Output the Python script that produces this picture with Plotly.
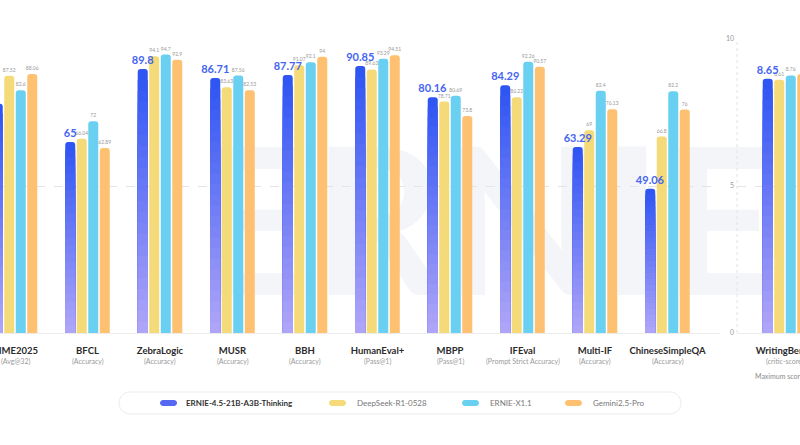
import plotly.graph_objects as go

# ---------------- data ----------------
categories = ["AIME2025", "BFCL", "ZebraLogic", "MUSR", "BBH", "HumanEval+",
              "MBPP", "IFEval", "Multi-IF", "ChineseSimpleQA"]
subtitles = ["(Avg@32)", "(Accuracy)", "(Accuracy)", "(Accuracy)", "(Accuracy)",
             "(Pass@1)", "(Pass@1)", "(Prompt Strict Accuracy)", "(Accuracy)", "(Accuracy)"]
ernie_thinking = [78.02, 65, 89.8, 86.71, 87.77, 90.85, 80.16, 84.29, 63.29, 49.06]
deepseek_r1 = [87.52, 66.04, 94.1, 83.63, 91.07, 89.63, 78.71, 80.22, 69, 66.8]
ernie_x11 = [82.6, 72, 94.7, 87.56, 92.1, 93.29, 80.69, 92.26, 82.4, 82.2]
gemini_pro = [88.06, 62.89, 92.9, 82.53, 94.0, 94.51, 73.8, 90.57, 76.13, 76.0]

wb_categories = ["WritingBench"]
wb_subtitles = ["(critic-score)"]
wb_ernie_thinking = [8.65]
wb_deepseek_r1 = [8.61]
wb_ernie_x11 = [8.76]
wb_gemini_pro = [8.8]

series_names = ["ERNIE-4.5-21B-A3B-Thinking", "DeepSeek-R1-0528", "ERNIE-X1.1", "Gemini2.5-Pro"]
left_ticks = [0, 50, 100]
right_ticks = [0, 5, 10]

# ---------------- style ----------------
W, H = 800, 445
MT, MB = 39, 112
PH = H - MT - MB
FONT = "Lato"
C_TOP = (0x2F, 0x55, 0xF3)
C_BOT = (0xB4, 0xA8, 0xF8)
C_DS = "#F4DA78"
C_X1 = "#6AD0F2"
C_GM = "#FEC172"
C_LABEL = "#4565F2"
NSEG = 24


def px_x(px):
    return px / W


def px_y(py):
    return 1 - (py - MT) / PH


def mix(t):
    r = [round(C_BOT[i] + (C_TOP[i] - C_BOT[i]) * t) for i in range(3)]
    return "rgb(%d,%d,%d)" % tuple(r)


fig = go.Figure()


def add_group(cats, e_vals, d_vals, x_vals, g_vals, xa, ya):
    # ERNIE bars with vertical gradient: overlaid bars of decreasing height
    for k in range(NSEG, 0, -1):
        frac = k / NSEG
        full = (k == NSEG)
        fig.add_trace(go.Bar(
            x=cats, y=[v * frac for v in e_vals], xaxis=xa, yaxis=ya,
            offsetgroup="a", marker=dict(color=mix(frac), line=dict(width=0),
                                         cornerradius=3 if full else 0),
            showlegend=False, hoverinfo="skip", name=series_names[0]))
    for vals, col, og, nm in [(d_vals, C_DS, "b", series_names[1]),
                              (x_vals, C_X1, "c", series_names[2]),
                              (g_vals, C_GM, "d", series_names[3])]:
        fig.add_trace(go.Bar(
            x=cats, y=vals, xaxis=xa, yaxis=ya, offsetgroup=og,
            marker=dict(color=col, line=dict(width=0), cornerradius=3),
            text=[f"{v:g}" for v in vals], textposition="outside",
            textfont=dict(size=5, color="#999999", family=FONT),
            constraintext="none", cliponaxis=False, showlegend=False, name=nm))
    # ERNIE value labels drawn last so they sit on top of neighbouring bars
    fig.add_trace(go.Bar(
        x=cats, y=e_vals, xaxis=xa, yaxis=ya, offsetgroup="a",
        marker=dict(color="rgba(0,0,0,0)", line=dict(width=0)),
        text=[f"{v:g}" for v in e_vals], texttemplate="<b>%{text}</b>",
        textposition="outside", textfont=dict(size=11, color=C_LABEL, family=FONT),
        constraintext="none", cliponaxis=False, showlegend=False, name=series_names[0]))


add_group(categories, ernie_thinking, deepseek_r1, ernie_x11, gemini_pro, "x", "y")
add_group(wb_categories, wb_ernie_thinking, wb_deepseek_r1, wb_ernie_x11, wb_gemini_pro, "x2", "y2")

SP = 72.5  # px per category
x_left_end = 720
x_right_start = 737
r0 = -15 / SP
rr0 = -(785 - x_right_start) / SP
TICKFONT = dict(size=9.5, color="#2a2a2a", family=FONT)

fig.update_layout(
    width=W, height=H, autosize=False, template="none",
    margin=dict(l=0, r=0, t=MT, b=MB, pad=0),
    paper_bgcolor="white", plot_bgcolor="white",
    barmode="group", bargap=0.365, bargroupgap=0.13,
    font=dict(family=FONT, color="#333333"),
    showlegend=False,
    xaxis=dict(domain=[0, px_x(x_left_end)], type="category", range=[r0, r0 + x_left_end / SP],
               tickvals=categories, ticktext=[f"<b>{c}</b>" for c in categories],
               tickfont=TICKFONT, ticks="", ticklabelstandoff=9, automargin=False,
               showline=True, linecolor="#ececec", linewidth=1, showgrid=False, zeroline=False),
    yaxis=dict(domain=[0, 1], range=[0, 100], tickvals=left_ticks, showticklabels=False,
               automargin=False, showline=False,
               showgrid=True, gridcolor="#e4e4e4", griddash="dash", gridwidth=1,
               zeroline=False, ticks=""),
    xaxis2=dict(domain=[px_x(x_right_start), 1], anchor="y2", type="category",
                range=[rr0, rr0 + (W - x_right_start) / SP],
                tickvals=wb_categories, ticktext=[f"<b>{c}</b>" for c in wb_categories],
                tickfont=TICKFONT, ticks="", ticklabelstandoff=9, automargin=False,
                showline=True, linecolor="#ececec", linewidth=1, showgrid=False, zeroline=False),
    yaxis2=dict(domain=[0, 1], anchor="x2", range=[0, 10], tickvals=right_ticks,
                tickfont=dict(size=7, color="#9a9a9a", family=FONT), ticks="",
                automargin=False, showline=False, ticklabelstandoff=2,
                showgrid=True, gridcolor="#e4e4e4", griddash="dash", gridwidth=1,
                zeroline=False),
)


def pill_path(w, h, r):
    k = 0.5523 * r
    x0, x1, y0, y1 = -w / 2, w / 2, -h / 2, h / 2
    return (f"M {x0 + r},{y0} L {x1 - r},{y0} "
            f"C {x1 - r + k},{y0} {x1},{y0 + r - k} {x1},{y0 + r} "
            f"L {x1},{y1 - r} "
            f"C {x1},{y1 - r + k} {x1 - r + k},{y1} {x1 - r},{y1} "
            f"L {x0 + r},{y1} "
            f"C {x0 + r - k},{y1} {x0},{y1 - r + k} {x0},{y1 - r} "
            f"L {x0},{y0 + r} "
            f"C {x0},{y0 + r - k} {x0 + r - k},{y0} {x0 + r},{y0} Z")


shapes = []
# watermark
shapes.append(dict(type="rect", xref="paper", yref="paper",
                   x0=px_x(245), x1=px_x(730), y0=px_y(300), y1=px_y(125),
                   line=dict(width=0), fillcolor="rgba(0,0,0,0)", layer="below",
                   label=dict(text="<b>ERNIE</b>", font=dict(size=205, color="#F4F5F9", family=FONT),
                              textposition="middle center")))
# separator
shapes.append(dict(type="line", xref="paper", yref="paper", x0=px_x(x_right_start), x1=px_x(x_right_start),
                   y0=0, y1=1, line=dict(color="#e2e2e2", width=1, dash="dot"), layer="below"))


def pill_shape(cx, cy, w, h, fill, line_col=None):
    return dict(type="path", xref="paper", yref="paper", xsizemode="pixel", ysizemode="pixel",
                xanchor=px_x(cx), yanchor=px_y(cy), path=pill_path(w, h, h / 2),
                fillcolor=fill, line=dict(color=line_col or fill, width=1 if line_col else 0))


shapes.append(pill_shape(400, 403, 562, 22, "white", "#ebebeb"))
legend_items = [
    (168.5, 184, series_names[0], "#5468F2", True),
    (337.5, 355, series_names[1], C_DS, False),
    (470.5, 488, series_names[2], C_X1, False),
    (573.5, 591, series_names[3], C_GM, False),
]
annotations = []
for sx, tx, name, col, bold in legend_items:
    shapes.append(pill_shape(sx, 403, 17, 6, col))
    annotations.append(dict(xref="paper", yref="paper", x=px_x(tx), y=px_y(403),
                            xanchor="left", yanchor="middle", showarrow=False,
                            text=f"<b>{name}</b>" if bold else name,
                            font=dict(size=8, color="#333333" if bold else "#777777", family=FONT)))

# category subtitles, anchored to each category on its axis
for c, s in zip(categories, subtitles):
    annotations.append(dict(xref="x", yref="paper", x=c, y=px_y(361), xanchor="center",
                            yanchor="middle", showarrow=False, text=s,
                            font=dict(size=7, color="#9a9a9a", family=FONT)))
for c, s in zip(wb_categories, wb_subtitles):
    annotations.append(dict(xref="x2", yref="paper", x=c, y=px_y(361), xanchor="center",
                            yanchor="middle", showarrow=False, text=s,
                            font=dict(size=7, color="#9a9a9a", family=FONT)))

annotations.append(dict(xref="x2", yref="paper", x=wb_categories[0], y=px_y(376),
                        xanchor="center", yanchor="middle", showarrow=False,
                        text="Maximum score: 10", font=dict(size=7, color="#8a8a8a", family=FONT)))

fig.update_layout(shapes=shapes, annotations=annotations)
fig.write_html("out.html")
